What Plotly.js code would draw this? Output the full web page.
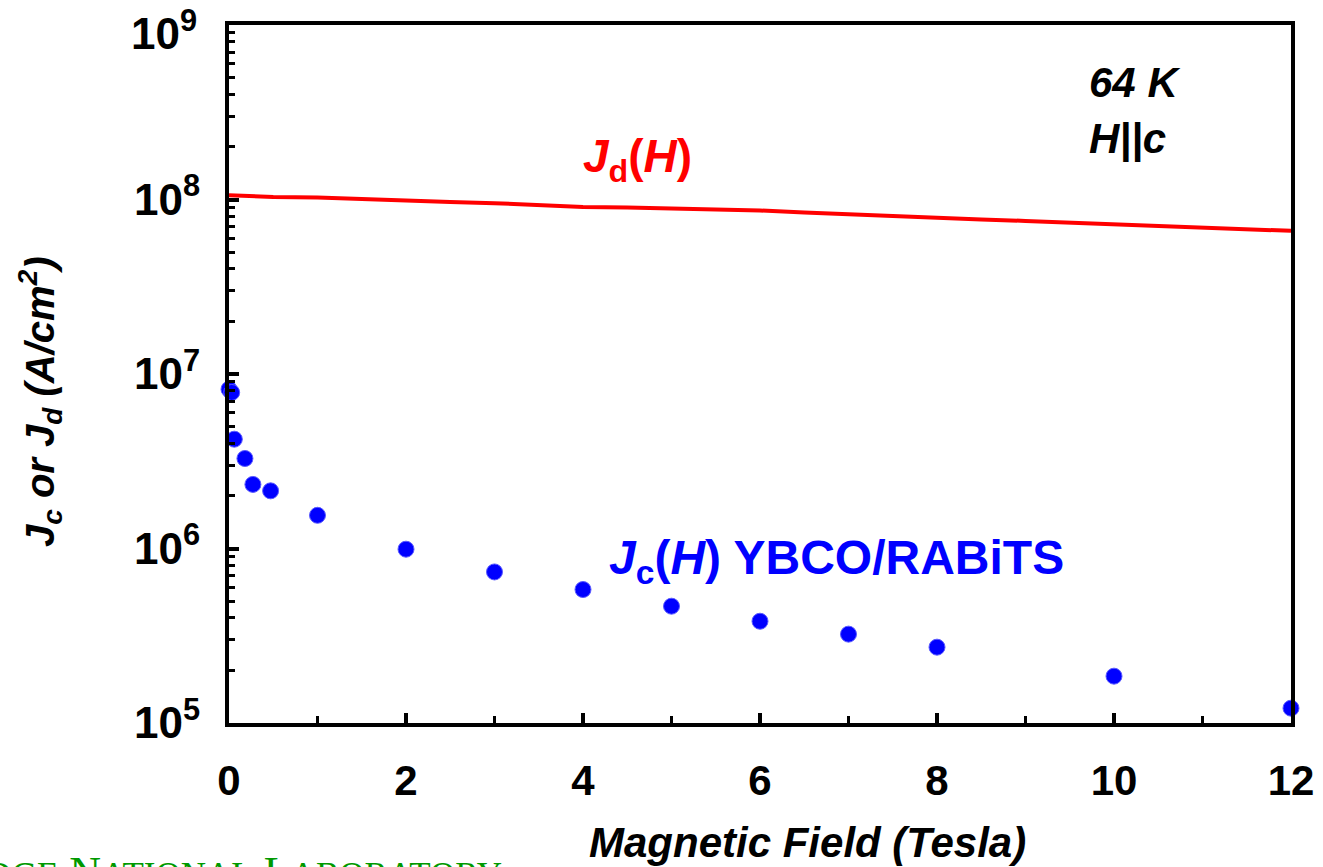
<!DOCTYPE html>
<html>
<head>
<meta charset="utf-8">
<script src="https://cdn.plot.ly/plotly-3.0.1.min.js"></script>
<style>html,body{margin:0;padding:0;background:#fff;}#chart{width:1323px;height:867px;}</style>
</head>
<body>
<div id="chart"></div>
<script>
// Jd(H) depairing current density (red line)
const jdField = [0, 0.5, 1, 1.5, 2, 2.5, 3, 3.5, 4, 4.5, 5, 5.5, 6, 6.5, 7, 7.5, 8, 8.5, 9, 9.5, 10, 10.5, 11, 11.5, 12];
const jdValues = [1.058e8, 1.035e8, 1.027e8, 1.004e8, 9.87e7, 9.69e7, 9.52e7, 9.28e7, 9.07e7, 9.0e7, 8.88e7, 8.76e7, 8.65e7, 8.42e7, 8.21e7, 8.02e7, 7.89e7, 7.68e7, 7.54e7, 7.38e7, 7.22e7, 7.06e7, 6.91e7, 6.76e7, 6.61e7];

// Jc(H) YBCO/RABiTS (blue points)
const jcField = [0, 0.03, 0.06, 0.18, 0.27, 0.47, 1, 2, 3, 4, 5, 6, 7, 8, 10, 12];
const jcValues = [8.18e6, 7.84e6, 4.23e6, 3.28e6, 2.33e6, 2.14e6, 1.55e6, 9.91e5, 7.34e5, 5.82e5, 4.67e5, 3.83e5, 3.23e5, 2.72e5, 1.855e5, 1.216e5];

// axis ticks
const xTickVals = [0, 2, 4, 6, 8, 10, 12];
const xTickText = ["0", "2", "4", "6", "8", "10", "12"];
const yTickVals = [1e5, 1e6, 1e7, 1e8, 1e9];
const yTickText = ["10<sup>5</sup>", "10<sup>6</sup>", "10<sup>7</sup>", "10<sup>8</sup>", "10<sup>9</sup>"];

const yMinorVals = [];
for (let e = 5; e < 9; e++) { for (let m = 2; m <= 9; m++) yMinorVals.push(m * Math.pow(10, e)); }

const FONT = "Liberation Sans, Arial, Helvetica, sans-serif";
const TOP = yTickText.length - 1; // the top label (10^9) is drawn a little lower, as in the reference

const traces = [
  {
    x: jdField, y: jdValues, type: "scatter", mode: "lines",
    line: {color: "#ff0000", width: 4}, name: "Jd(H)", showlegend: false, hoverinfo: "x+y"
  },
  {
    x: jcField, y: jcValues, type: "scatter", mode: "markers", cliponaxis: false,
    marker: {color: "#0000ff", size: 16, line: {color: "#5a5aff", width: 1}},
    name: "Jc(H) YBCO/RABiTS", showlegend: false, hoverinfo: "x+y"
  }
];

const layout = {
  width: 1323, height: 867,
  margin: {l: 229, r: 32, t: 25, b: 144},
  paper_bgcolor: "#ffffff", plot_bgcolor: "#ffffff",
  showlegend: false,
  font: {family: FONT, color: "#000"},
  xaxis: {
    range: [0, 12], tickmode: "array", tickvals: xTickVals, ticktext: xTickText,
    ticks: "inside", ticklen: 10, tickwidth: 4, tickcolor: "#000",
    showline: true, linewidth: 4, linecolor: "#000", mirror: true,
    showgrid: false, zeroline: false,
    tickfont: {family: FONT, size: 42, weight: "bold", color: "#000"},
    ticklabelstandoff: 18, ticklabeloverflow: "allow",
    minor: {dtick: 1, ticks: "inside", ticklen: 7, tickwidth: 3, tickcolor: "#000", showgrid: false}
  },
  yaxis: {
    type: "log", range: [5, 9], tickmode: "array", tickvals: yTickVals,
    ticktext: yTickText.map((t, i) => (i === TOP ? "" : t)),
    ticks: "inside", ticklen: 10, tickwidth: 4, tickcolor: "#000",
    showline: true, linewidth: 4, linecolor: "#000", mirror: true,
    showgrid: false, zeroline: false,
    tickfont: {family: FONT, size: 44, weight: "bold", color: "#000"},
    ticklabelstandoff: 16, ticklabeloverflow: "allow",
    minor: {tickmode: "array", tickvals: yMinorVals, ticks: "inside", ticklen: 6, tickwidth: 3, tickcolor: "#000", showgrid: false}
  },
  annotations: [
    {xref: "paper", yref: "paper", x: (199 - 229) / 1062, y: (723 - 31) / 698, xanchor: "right", yanchor: "middle",
     text: yTickText[TOP], showarrow: false, font: {family: FONT, size: 44, weight: "bold", color: "#000"}},
    {xref: "paper", yref: "paper", x: (1087 - 229) / 1062, y: (723 - 83) / 698, xanchor: "left", yanchor: "middle",
     text: "<i>64 K</i>", showarrow: false, font: {family: FONT, size: 42, weight: "bold", color: "#000"}},
    {xref: "paper", yref: "paper", x: (1087 - 229) / 1062, y: (723 - 138) / 698, xanchor: "left", yanchor: "middle",
     text: "<i>H||c</i>", showarrow: false, font: {family: FONT, size: 42, weight: "bold", color: "#000"}},
    {xref: "paper", yref: "paper", x: (581 - 229) / 1062, y: (723 - 160) / 698, xanchor: "left", yanchor: "middle",
     text: "<i>J</i><sub>d</sub>(<i>H</i>)", showarrow: false, font: {family: FONT, size: 46, weight: "bold", color: "#ff0000"}},
    {xref: "paper", yref: "paper", x: (607 - 229) / 1062, y: (723 - 561) / 698, xanchor: "left", yanchor: "middle",
     text: "<i>J</i><sub>c</sub>(<i>H</i>) YBCO/RABiTS", showarrow: false, font: {family: FONT, size: 48, weight: "bold", color: "#0000ff"}},
    {xref: "paper", yref: "paper", x: (807 - 229) / 1062, y: (723 - 842) / 698, xanchor: "center", yanchor: "middle",
     text: "<i>Magnetic Field (Tesla)</i>", showarrow: false, font: {family: FONT, size: 42, weight: "bold", color: "#000"}},
    {xref: "paper", yref: "paper", x: (40 - 229) / 1062, y: (723 - 402) / 698, xanchor: "center", yanchor: "middle",
     textangle: -90,
     text: "<i>J<sub>c</sub> or J<sub>d</sub> (A/cm<sup>2</sup>)</i>", showarrow: false, font: {family: FONT, size: 40, weight: "bold", color: "#000"}},
    {xref: "paper", yref: "paper", x: (-150 - 229) / 1062, y: (723 - 846) / 698, xanchor: "left", yanchor: "top",
     text: "O<span style='font-size:35px'>AK</span> R<span style='font-size:35px'>IDGE</span> N<span style='font-size:35px'>ATIONAL</span> L<span style='font-size:35px'>ABORATORY</span>",
     showarrow: false, font: {family: "Liberation Serif, Times New Roman, serif", size: 44, color: "#009900"}}
  ]
};

Plotly.newPlot("chart", traces, layout, {staticPlot: true, displayModeBar: false});
</script>
</body>
</html>
